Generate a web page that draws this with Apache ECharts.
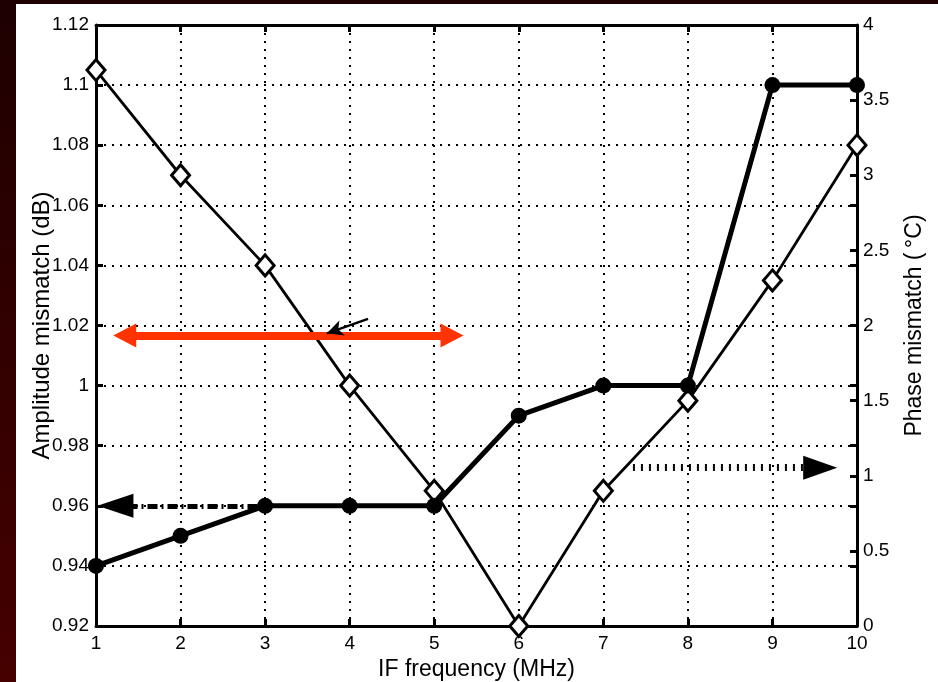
<!DOCTYPE html>
<html>
<head>
<meta charset="utf-8">
<script src="https://cdn.jsdelivr.net/npm/echarts@6/dist/echarts.min.js"></script>
<style>
html, body { margin: 0; padding: 0; }
body { width: 938px; height: 682px; background: linear-gradient(to bottom, #1e0000, #460000); position: relative; overflow: hidden; }
#chart { position: absolute; left: 16px; top: 4px; width: 922px; height: 678px; background: #fff; }
</style>
</head>
<body>
<div id="chart"></div>
<script>
var freq = [1, 2, 3, 4, 5, 6, 7, 8, 9, 10];
var amplitude = [0.94, 0.95, 0.96, 0.96, 0.96, 0.99, 1.00, 1.00, 1.10, 1.10];
var phase = [3.7, 3.0, 2.4, 1.6, 0.9, 0, 0.9, 1.5, 2.3, 3.2];

// annotation arrows, in data units (x, amplitude)
var redArrow = [[1.34, 1.0167], [5.21, 1.0167]];
var pointerArrow = [[4.217, 1.0222], [3.731, 1.0174]];
var leftArrow = [[2.91, 0.96], [1.23, 0.96]];
var rightArrow = [[7.35, 0.9727], [9.565, 0.9727]];

var font = 'Liberation Sans, Arial, Helvetica, sans-serif';
var black = '#000';

function pairs(xs, ys) {
    return xs.map(function (x, i) { return [x, ys[i]]; });
}

function arrow(pts, color, type, width, startSym, endSym) {
    var ls = { color: color, type: type, width: width };
    return [
        { coord: pts[0], symbol: startSym ? startSym[0] : 'none', symbolSize: startSym ? startSym[1] : 0, lineStyle: ls },
        { coord: pts[1], symbol: endSym ? endSym[0] : 'none', symbolSize: endSym ? endSym[1] : 0, lineStyle: ls }
    ];
}

var myChart = echarts.init(document.getElementById('chart'));

var option = {
    animation: false,
    grid: { left: 80, right: 81, top: 21, bottom: 56, containLabel: false, outerBoundsMode: 'none' },
    xAxis: [
        {
            type: 'value', min: 1, max: 10, interval: 1,
            name: 'IF frequency (MHz)', nameLocation: 'middle', nameGap: 32, nameMoveOverlap: false,
            nameTextStyle: { fontFamily: font, fontSize: 23, color: black },
            axisLine: { show: true, lineStyle: { color: black, width: 3 } },
            axisTick: { show: true, inside: true, length: 7, lineStyle: { color: black, width: 3 } },
            axisLabel: { margin: 8, fontFamily: font, fontSize: 19, color: black },
            splitLine: { show: true, lineStyle: { color: black, type: [2, 6], width: 2 } }
        },
        {
            type: 'value', min: 1, max: 10, interval: 1, position: 'top',
            axisLine: { show: true, lineStyle: { color: black, width: 3 } },
            axisTick: { show: true, inside: true, length: 7, lineStyle: { color: black, width: 3 } },
            axisLabel: { show: false },
            splitLine: { show: false }
        }
    ],
    yAxis: [
        {
            type: 'value', min: 0.92, max: 1.12, interval: 0.02, position: 'left',
            name: 'Amplitude mismatch (dB)', nameLocation: 'middle', nameGap: 42, nameRotate: 90, nameMoveOverlap: false,
            nameTextStyle: { fontFamily: font, fontSize: 24, color: black },
            axisLine: { show: true, lineStyle: { color: black, width: 3 } },
            axisTick: { show: true, inside: true, length: 7, lineStyle: { color: black, width: 3 } },
            axisLabel: { margin: 7, fontFamily: font, fontSize: 19, color: black },
            splitLine: { show: true, lineStyle: { color: black, type: [2, 6], width: 2 } }
        },
        {
            type: 'value', min: 0, max: 4, interval: 0.5, position: 'right',
            name: 'Phase mismatch (\u2009\u00B0C)', nameLocation: 'middle', nameGap: 46, nameRotate: 90, nameMoveOverlap: false,
            nameTextStyle: { fontFamily: font, fontSize: 23, color: black },
            axisLine: { show: true, lineStyle: { color: black, width: 3 } },
            axisTick: { show: true, inside: true, length: 7, lineStyle: { color: black, width: 3 } },
            axisLabel: { margin: 6, fontFamily: font, fontSize: 19, color: black },
            splitLine: { show: false }
        },
        {
            type: 'value', min: 0.92, max: 1.12, interval: 0.02, position: 'right',
            axisLine: { show: false },
            axisTick: { show: true, inside: true, length: 7, lineStyle: { color: black, width: 3 } },
            axisLabel: { show: false },
            splitLine: { show: false }
        }
    ],
    series: [
        {
            name: 'Phase mismatch', type: 'line', yAxisIndex: 1,
            data: pairs(freq, phase),
            symbol: 'diamond', symbolSize: [18, 21],
            itemStyle: { color: '#fff', borderColor: black, borderWidth: 3 },
            lineStyle: { color: black, width: 2.8 },
            z: 3
        },
        {
            name: 'Amplitude mismatch', type: 'line', yAxisIndex: 0,
            data: pairs(freq, amplitude),
            symbol: 'circle', symbolSize: 16,
            itemStyle: { color: black, borderWidth: 0 },
            lineStyle: { color: black, width: 5 },
            z: 4
        },
        {
            name: 'annotations', type: 'line', yAxisIndex: 0, data: [],
            z: 5,
            markLine: {
                silent: true, animation: false,
                label: { show: false },
                emphasis: { disabled: true },
                data: [
                    arrow(redArrow, '#ff3300', 'solid', 8, ['triangle', [24, 23]], ['triangle', [24, 23]]),
                    arrow(pointerArrow, black, 'solid', 2.5, null, ['arrow', [12, 16]]),
                    arrow(leftArrow, black, [10, 4, 2, 4], 5, null, ['triangle', [24, 36]]),
                    arrow(rightArrow, black, [2, 6], 7, null, ['triangle', [24, 34]])
                ]
            }
        }
    ]
};

myChart.setOption(option);
</script>
</body>
</html>
